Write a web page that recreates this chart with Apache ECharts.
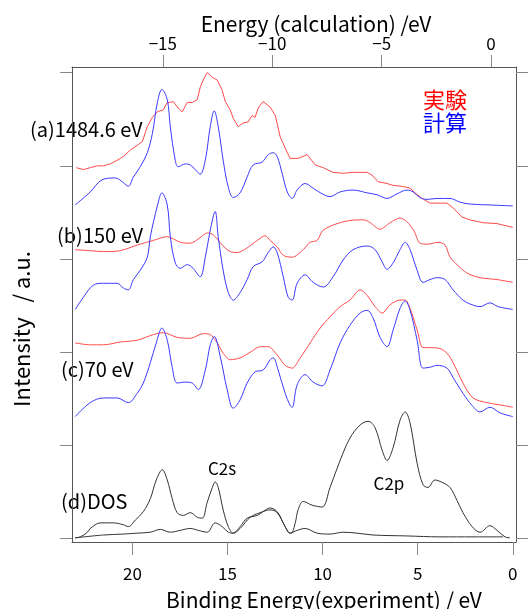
<!DOCTYPE html>
<html>
<head>
<meta charset="utf-8">
<script src="https://cdn.jsdelivr.net/npm/echarts@6/dist/echarts.min.js"></script>
<style>
  html, body { margin: 0; padding: 0; background: #fff; }
  #main { width: 528px; height: 609px; }
</style>
</head>
<body>
<div id="main"></div>
<script>
// x = binding energy (experiment) / eV, y = intensity (offset per panel, a.u.)
var bindingTicks = [0, 5, 10, 15, 20];
var calcTicks = [-15, -10, -5, 0];
var intensityTicks = [0, 1, 2, 3, 4, 5];

// (a) 1484.6 eV
var aExp = [
  [22.95,3.98],[22.58,3.96],[22.22,3.98],[21.85,4.00],[21.53,4.00],[21.17,4.02],[20.80,4.06],
  [20.48,4.10],[20.11,4.17],[19.75,4.22],[19.48,4.26],[19.32,4.36],[19.22,4.42],[18.95,4.52],
  [18.69,4.58],[18.38,4.60],[18.17,4.68],[18.01,4.68],[17.86,4.69],[17.60,4.62],[17.38,4.58],
  [17.12,4.68],[16.86,4.68],[16.59,4.71],[16.44,4.84],[16.28,4.92],[16.07,5.00],[15.80,4.95],
  [15.54,4.92],[15.28,4.81],[15.12,4.69],[14.86,4.60],[14.70,4.51],[14.44,4.42],[14.18,4.46],
  [13.92,4.47],[13.71,4.54],[13.55,4.52],[13.39,4.62],[13.13,4.69],[12.76,4.63],[12.49,4.54],
  [12.23,4.31],[11.97,4.19],[11.71,4.08],[11.29,4.08],[10.81,4.12],[10.39,4.01],[9.97,3.98],
  [9.45,3.93],[8.92,3.92],[8.40,3.93],[7.66,3.93],[7.40,3.90],[7.09,3.83],[6.61,3.81],
  [6.29,3.79],[5.82,3.78],[5.40,3.76],[5.14,3.71],[4.77,3.65],[4.35,3.60],[3.93,3.60],
  [3.46,3.60],[3.14,3.55],[2.67,3.45],[2.25,3.42],[1.57,3.39],[0.83,3.38],[0.00,3.34]
];
var aCalc = [
  [23.01,3.58],[22.22,3.72],[21.60,3.85],[20.90,3.87],[20.48,3.82],[20.22,3.78],[19.95,3.88],
  [19.59,3.99],[19.22,4.14],[18.95,4.35],[18.69,4.68],[18.45,4.82],[18.17,4.71],[18.01,4.42],
  [17.75,4.06],[17.60,3.99],[17.23,4.02],[16.96,4.01],[16.70,3.96],[16.44,3.91],[16.17,4.06],
  [15.91,4.42],[15.70,4.59],[15.49,4.42],[15.23,4.06],[14.96,3.77],[14.70,3.66],[14.34,3.71],
  [13.97,3.88],[13.65,4.01],[13.18,4.04],[12.86,4.12],[12.60,4.14],[12.39,4.10],[12.13,3.92],
  [11.86,3.72],[11.60,3.65],[11.34,3.74],[10.92,3.81],[10.50,3.76],[10.03,3.70],[9.61,3.67],
  [9.08,3.72],[8.40,3.74],[7.66,3.71],[7.14,3.69],[6.61,3.65],[6.08,3.70],[5.56,3.74],
  [5.24,3.72],[4.88,3.66],[4.51,3.64],[3.98,3.65],[3.30,3.65],[2.77,3.61],[2.25,3.59],
  [1.20,3.58],[0.00,3.57]
];

// (b) 150 eV
var bExp = [
  [23.01,3.10],[22.22,3.09],[21.53,3.08],[20.64,3.09],[19.75,3.15],[18.90,3.20],[18.17,3.24],
  [17.49,3.18],[16.96,3.17],[16.44,3.23],[16.07,3.28],[15.75,3.26],[15.28,3.15],[14.86,3.08],
  [14.49,3.07],[13.97,3.12],[13.44,3.20],[13.02,3.25],[12.76,3.20],[12.39,3.13],[12.07,3.04],
  [11.60,3.02],[11.02,3.10],[10.66,3.18],[10.29,3.20],[9.97,3.31],[9.08,3.39],[8.19,3.42],
  [7.82,3.42],[7.50,3.39],[6.98,3.32],[6.45,3.39],[5.93,3.44],[5.56,3.40],[5.19,3.30],
  [4.88,3.17],[4.46,3.16],[3.93,3.18],[3.56,3.15],[3.30,3.02],[2.93,2.94],[2.41,2.85],
  [1.72,2.80],[0.83,2.78],[0.00,2.75]
];
var bCalc = [
  [23.01,2.46],[22.58,2.59],[22.06,2.72],[21.53,2.74],[20.80,2.74],[20.48,2.69],[20.22,2.67],
  [19.95,2.78],[19.59,2.88],[19.22,3.02],[19.06,3.24],[18.69,3.57],[18.45,3.71],[18.17,3.58],
  [18.01,3.24],[17.75,2.96],[17.49,2.90],[17.12,2.94],[16.81,2.90],[16.44,2.81],[16.17,3.02],
  [15.91,3.31],[15.65,3.51],[15.49,3.24],[15.23,2.88],[14.96,2.64],[14.70,2.56],[14.34,2.64],
  [13.97,2.78],[13.65,2.92],[13.18,2.97],[12.86,3.07],[12.60,3.13],[12.39,3.07],[12.07,2.81],
  [11.81,2.59],[11.60,2.56],[11.34,2.74],[10.92,2.83],[10.50,2.75],[9.97,2.70],[9.45,2.81],
  [8.92,2.99],[8.40,3.10],[7.66,3.14],[7.24,3.10],[6.87,2.97],[6.61,2.89],[6.29,2.96],
  [5.93,3.10],[5.66,3.18],[5.40,3.10],[5.03,2.88],[4.72,2.75],[4.35,2.78],[3.98,2.80],
  [3.56,2.78],[3.14,2.67],[2.62,2.56],[2.14,2.51],[1.72,2.49],[1.20,2.53],[0.78,2.49],
  [0.00,2.46]
];

// (c) 70 eV
var cExp = [
  [23.01,2.10],[22.22,2.08],[21.53,2.08],[20.64,2.11],[19.75,2.13],[18.90,2.19],[18.38,2.21],
  [17.65,2.16],[16.96,2.15],[16.28,2.20],[15.91,2.19],[15.54,2.10],[15.23,1.99],[14.86,1.92],
  [14.34,1.94],[13.81,2.00],[13.28,2.06],[12.86,2.06],[12.39,1.97],[11.97,1.86],[11.60,1.83],
  [11.18,1.94],[10.66,2.10],[10.13,2.26],[9.61,2.38],[9.08,2.49],[8.56,2.56],[8.03,2.67],
  [7.66,2.61],[7.24,2.49],[6.87,2.42],[6.45,2.51],[5.93,2.56],[5.66,2.56],[5.40,2.47],
  [5.03,2.24],[4.72,2.05],[4.35,2.05],[3.83,2.04],[3.46,1.99],[3.14,1.89],[2.62,1.67],
  [2.09,1.51],[1.36,1.46],[0.51,1.43],[0.00,1.41]
];
var cCalc = [
  [23.01,1.31],[22.22,1.46],[21.53,1.51],[20.80,1.51],[20.22,1.46],[19.75,1.56],[19.43,1.67],
  [19.06,1.89],[18.75,2.10],[18.45,2.26],[18.17,2.13],[17.91,1.84],[17.65,1.67],[17.23,1.68],
  [16.86,1.67],[16.54,1.60],[16.17,1.81],[15.91,2.08],[15.70,2.17],[15.38,1.95],[15.02,1.60],
  [14.70,1.40],[14.34,1.49],[13.97,1.67],[13.55,1.79],[13.13,1.81],[12.76,1.92],[12.60,1.94],
  [12.34,1.81],[11.97,1.56],[11.71,1.43],[11.60,1.41],[11.34,1.65],[10.92,1.76],[10.50,1.68],
  [10.03,1.64],[9.61,1.81],[9.08,2.10],[8.56,2.29],[8.03,2.42],[7.66,2.45],[7.35,2.37],
  [6.98,2.16],[6.61,2.06],[6.29,2.24],[5.93,2.47],[5.66,2.55],[5.40,2.45],[5.03,2.13],
  [4.72,1.83],[4.35,1.84],[3.98,1.86],[3.46,1.83],[3.14,1.73],[2.62,1.56],[2.14,1.43],
  [1.72,1.36],[1.20,1.41],[0.67,1.35],[0.00,1.31]
];

// (d) DOS: total and partial
var dosTotal = [
  [23.01,0.01],[22.74,0.02],[22.37,0.07],[22.22,0.11],[21.69,0.17],[21.01,0.17],[20.48,0.15],
  [20.22,0.13],[19.85,0.20],[19.43,0.29],[19.06,0.43],[18.75,0.63],[18.43,0.74],[18.17,0.63],
  [17.91,0.43],[17.65,0.28],[17.33,0.25],[16.96,0.28],[16.59,0.23],[16.33,0.22],[16.07,0.39],
  [15.80,0.55],[15.65,0.61],[15.49,0.55],[15.23,0.31],[14.96,0.13],[14.70,0.06],[14.34,0.13],
  [13.97,0.22],[13.44,0.25],[13.13,0.29],[12.76,0.33],[12.39,0.29],[12.07,0.17],[11.81,0.07],
  [11.65,0.06],[11.44,0.17],[11.29,0.31],[11.02,0.40],[10.55,0.36],[10.03,0.34],[9.61,0.55],
  [9.08,0.84],[8.56,1.08],[8.03,1.22],[7.61,1.26],[7.24,1.19],[6.87,0.95],[6.61,0.84],
  [6.29,0.98],[5.93,1.27],[5.66,1.36],[5.40,1.24],[5.03,0.81],[4.72,0.58],[4.46,0.55],
  [4.09,0.63],[3.67,0.60],[3.30,0.55],[2.93,0.41],[2.62,0.28],[2.14,0.13],[1.72,0.07],
  [1.20,0.14],[0.83,0.09],[0.41,0.02],[0.15,0.01]
];
var dosPartial = [
  [23.01,0.01],[21.53,0.04],[20.48,0.05],[19.75,0.06],[19.06,0.07],[18.54,0.10],[18.01,0.07],
  [17.49,0.09],[16.96,0.11],[16.54,0.09],[16.07,0.07],[15.65,0.17],[15.28,0.13],[14.96,0.07],
  [14.70,0.06],[14.34,0.11],[13.81,0.23],[13.28,0.28],[12.76,0.31],[12.39,0.28],[11.97,0.13],
  [11.71,0.06],[11.34,0.09],[10.92,0.11],[10.29,0.06],[9.61,0.05],[8.92,0.07],[8.19,0.06],
  [7.35,0.04],[5.56,0.03],[3.83,0.02],[2.09,0.02],[0.51,0.02]
];

var RED = '#ff4a4a', BLUE = '#3a3aff', BLACK = '#333';
var FONT = '"Noto Sans CJK JP", sans-serif';

function line(data, color, smooth) {
  return {
    type: 'line', data: data, xAxisIndex: 0, yAxisIndex: 0,
    showSymbol: false, smooth: smooth, silent: true,
    lineStyle: { color: color, width: 1 }
  };
}
function txt(x, y, s, size, color, align) {
  return {
    type: 'text', x: x, y: y,
    style: { text: s, fontSize: size, fontFamily: FONT, fill: color || '#000',
             align: align || 'left', verticalAlign: 'middle' }
  };
}

var chart = echarts.init(document.getElementById('main'));
var axisLine = { show: true, onZero: false, lineStyle: { color: '#555', width: 1 } };
var tickStyle = { color: '#888', width: 1 };

var option = {
  animation: false,
  backgroundColor: '#fff',
  grid: { left: 72, right: 12, top: 67, bottom: 67, containLabel: false },
  xAxis: [
    {
      type: 'value', position: 'bottom', inverse: true, min: -0.17, max: 23.18,
      axisLine: axisLine, splitLine: { show: false },
      axisTick: { length: 13, customValues: bindingTicks, lineStyle: tickStyle },
      axisLabel: { customValues: bindingTicks, margin: 23, fontSize: 17, color: '#000', fontFamily: FONT }
    },
    {
      type: 'value', position: 'top', min: -19.15, max: 1.14,
      axisLine: axisLine, splitLine: { show: false },
      axisTick: { length: 12, customValues: calcTicks, lineStyle: tickStyle },
      axisLabel: {
        customValues: calcTicks, margin: 15, fontSize: 17, color: '#000', fontFamily: FONT,
        formatter: function (v) { return String(v).replace('-', '\u2212'); }
      }
    }
  ],
  yAxis: [
    {
      type: 'value', position: 'left', min: -0.035, max: 5.06,
      axisLine: axisLine, splitLine: { show: false },
      axisTick: { length: 12, customValues: intensityTicks, lineStyle: tickStyle },
      axisLabel: { show: false }
    },
    {
      type: 'value', position: 'right', min: -0.035, max: 5.06,
      axisLine: axisLine, splitLine: { show: false },
      axisTick: { length: 12, customValues: intensityTicks, lineStyle: tickStyle },
      axisLabel: { show: false }
    }
  ],
  series: [
    line(aExp, RED, false),
    line(aCalc, BLUE, 0.35),
    line(bExp, RED, 0.3),
    line(bCalc, BLUE, 0.35),
    line(cExp, RED, 0.3),
    line(cCalc, BLUE, 0.35),
    line(dosPartial, BLACK, 0.35),
    line(dosTotal, BLACK, 0.35)
  ],
  graphic: [
    txt(316, 24, 'Energy (calculation) /eV', 21, '#000', 'center'),
    txt(324, 600, 'Binding Energy(experiment) / eV', 21, '#000', 'center'),
    {
      type: 'text', x: 22, y: 329, rotation: Math.PI / 2,
      style: { text: 'Intensity   / a.u.', fontSize: 22, fontFamily: FONT, fill: '#000',
               align: 'center', verticalAlign: 'middle' }
    },
    txt(30, 129, '(a)1484.6 eV', 20),
    txt(57, 235, '(b)150 eV', 20),
    txt(61, 369, '(c)70 eV', 20),
    txt(61, 501, '(d)DOS', 20),
    txt(222, 469, 'C2s', 17, '#000', 'center'),
    txt(389, 484, 'C2p', 17, '#000', 'center'),
    txt(423, 100, '実験', 22, '#ff0000'),
    txt(423, 123, '計算', 22, '#0000ff')
  ]
};
chart.setOption(option);
</script>
</body>
</html>
